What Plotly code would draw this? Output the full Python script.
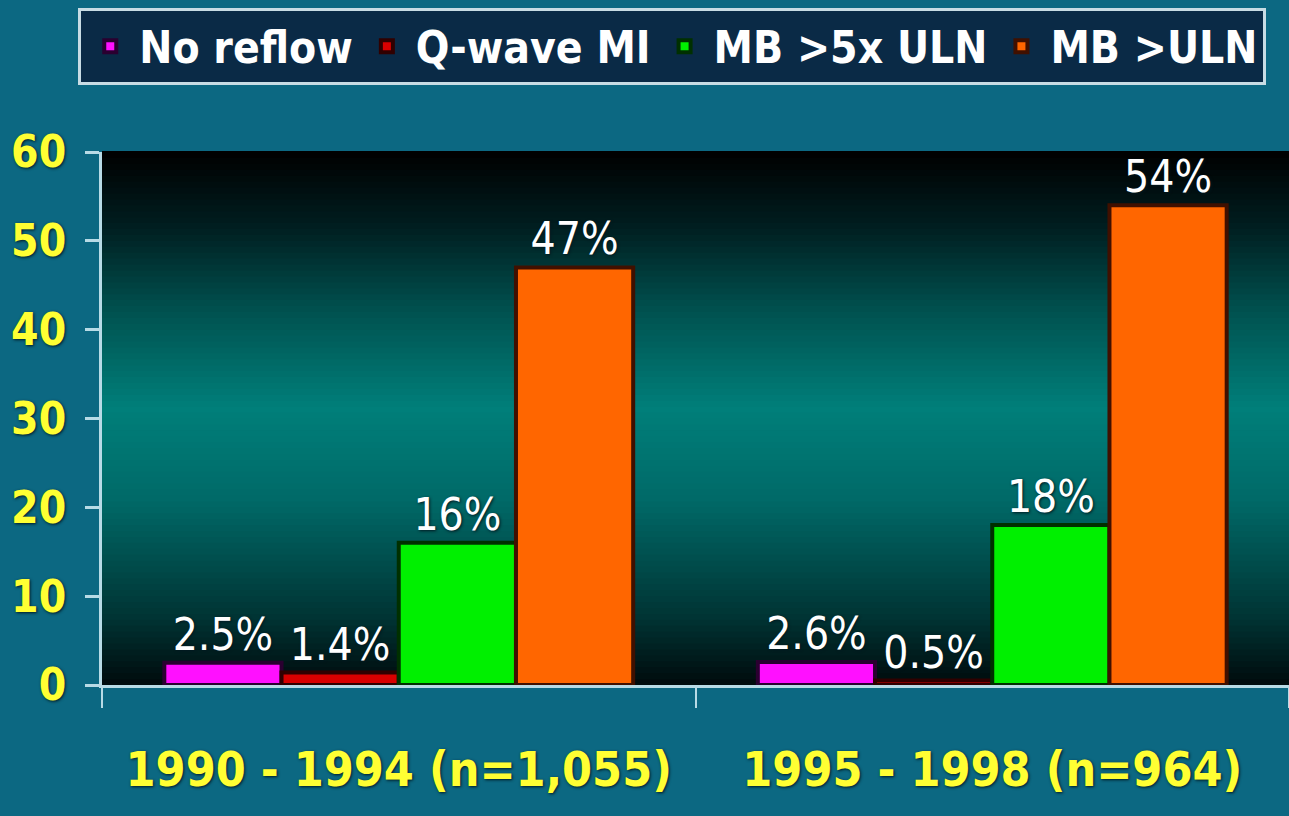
import plotly.graph_objects as go

# Chart data
periods = ["1990 - 1994 (n=1,055)", "1995 - 1998 (n=964)"]
series_names = ["No reflow", "Q-wave MI", "MB >5x ULN", "MB >ULN"]
no_reflow = [2.5, 2.6]
q_wave_mi = [1.4, 0.5]
mb_5x_uln = [16, 18]
mb_uln = [47, 54]
y_ticks = [0, 10, 20, 30, 40, 50, 60]

values = [no_reflow, q_wave_mi, mb_5x_uln, mb_uln]
fills = ["#ff10ff", "#d80000", "#00f000", "#ff6600"]
edges = ["#2a0030", "#300000", "#003000", "#401000"]

COND = "DejaVu Sans Condensed, Liberation Sans Narrow, Arial Narrow, sans-serif"
HALO = "1px 1px 3px #001820"

fig = go.Figure()
for name, vals, fc, ec in zip(series_names, values, fills, edges):
    fig.add_trace(go.Bar(
        name=name,
        x=periods,
        y=vals,
        marker=dict(color=fc, line=dict(color=ec, width=4)),
        text=[f"{v:g}%" for v in vals],
        textposition="outside",
        cliponaxis=False,
        textfont=dict(family=COND, size=44, color="white", shadow=HALO),
    ))


def mix(c1, c2, t):
    a = [int(c1[i:i + 2], 16) for i in (1, 3, 5)]
    b = [int(c2[i:i + 2], 16) for i in (1, 3, 5)]
    return "#" + "".join(f"{round(x + (y - x) * t):02x}" for x, y in zip(a, b))


# vertical gradient behind the bars (bottom -> top)
stops = [(0.0, "#000a0c"), (0.12, "#003232"), (0.35, "#006a68"),
         (0.52, "#007f7a"), (0.70, "#005250"), (0.86, "#001e20"), (1.0, "#000000")]


def grad(t):
    for (t0, c0), (t1, c1) in zip(stops, stops[1:]):
        if t0 <= t <= t1:
            return mix(c0, c1, (t - t0) / (t1 - t0))
    return stops[-1][1]


N = 90
shapes = []
for i in range(N):
    y0 = i / N
    y1 = (i + 1) / N
    shapes.append(dict(type="rect", xref="x domain", yref="y domain",
                       x0=0, x1=1, y0=y0, y1=y1 + 0.002,
                       fillcolor=grad((i + 0.5) / N), line=dict(width=0),
                       layer="below"))

fig.update_layout(
    width=1289, height=816,
    margin=dict(l=102, r=0, t=152, b=131, autoexpand=False),
    paper_bgcolor="#0c6882",
    plot_bgcolor="rgba(0,0,0,0)",
    barmode="group",
    bargap=0.21,
    bargroupgap=0,
    shapes=shapes,
    showlegend=True,
    legend=dict(
        orientation="h",
        x=-0.02, xanchor="left",
        y=1.27, yanchor="top",
        bgcolor="#0a2a46",
        bordercolor="#c8dce4",
        borderwidth=3,
        font=dict(family=COND, size=44, color="white", weight="bold"),
        itemwidth=48,
        traceorder="normal",
    ),
    xaxis=dict(
        type="category",
        range=[-0.5, 1.5],
        automargin=False,
        tickangle=0,
        showgrid=False,
        showline=True, linecolor="#b8dbe6", linewidth=3,
        ticks="outside", tickson="boundaries", ticklen=20,
        tickcolor="#b8dbe6", tickwidth=2,
        ticklabelstandoff=40,
        tickfont=dict(family=COND, size=48, color="#ffff33", weight="bold", shadow=HALO),
    ),
    yaxis=dict(
        range=[0, 60],
        automargin=False,
        tickvals=y_ticks,
        showgrid=False,
        zeroline=False,
        showline=True, linecolor="#b8dbe6", linewidth=3,
        ticks="outside", ticklen=14, tickcolor="#b8dbe6", tickwidth=3,
        ticklabelstandoff=10,
        tickfont=dict(family=COND, size=44, color="#ffff33", weight="bold", shadow=HALO),
    ),
)

fig.write_html("out.html")
